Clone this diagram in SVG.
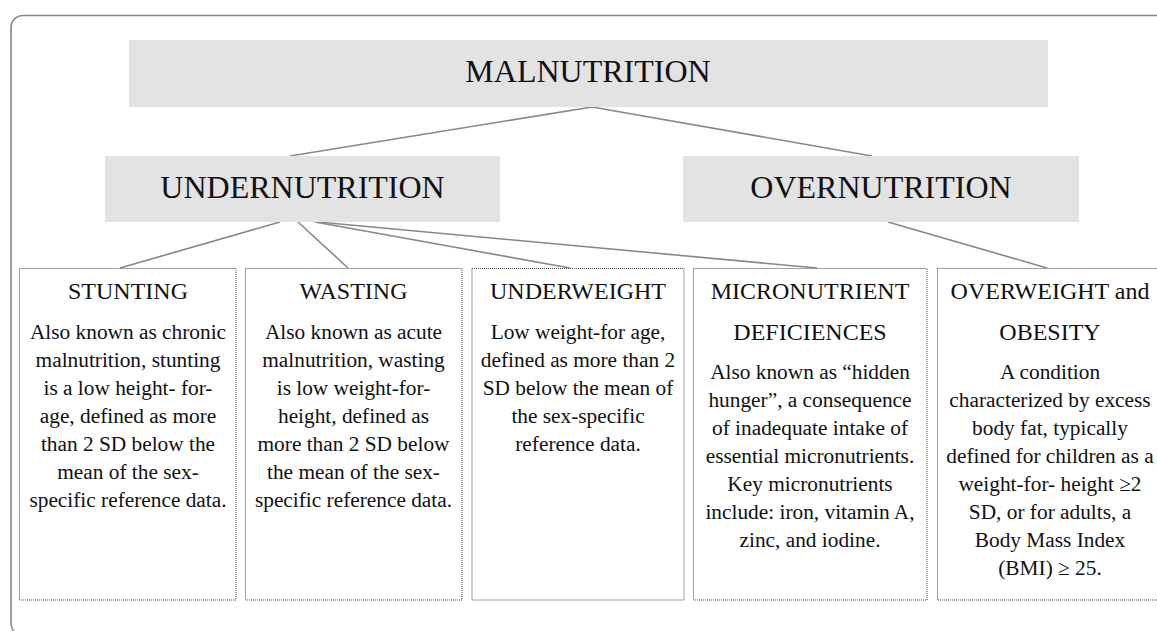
<svg xmlns="http://www.w3.org/2000/svg" width="1157" height="631" viewBox="0 0 1157 631">
  <style>
    .t { font-family: "Liberation Serif", "Times New Roman", Times, Tinos, "Noto Serif", "DejaVu Serif", FreeSerif, "Nimbus Roman", serif; fill: #111; text-anchor: middle; }
    .frame { fill: none; stroke: #858585; stroke-width: 1.6; }
    .head { fill: #e3e3e3; stroke: none; }
    .big { font-size: 32px; }
    .card { fill: #fff; stroke: #444; stroke-width: 1; stroke-dasharray: 1 1; }
    .title { font-size: 24px; }
    .body { font-size: 21.33px; }
    .link { stroke: #888; stroke-width: 1.6; fill: none; }
  </style>

  <!-- outer panel -->
  <rect class="frame" x="11" y="15.5" width="1170" height="620" rx="12" ry="12"/>

  <!-- connectors -->
  <g id="connectors">
    <line class="link" x1="592" y1="107" x2="290" y2="156"/>
    <line class="link" x1="592" y1="107" x2="872" y2="156"/>
    <line class="link" x1="280" y1="222" x2="120" y2="268"/>
    <line class="link" x1="298" y1="222" x2="348" y2="268"/>
    <line class="link" x1="315" y1="222" x2="570" y2="268"/>
    <line class="link" x1="318" y1="222" x2="817" y2="268"/>
    <line class="link" x1="888" y1="222" x2="1047" y2="268"/>
  </g>

  <g id="malnutrition">
    <rect class="head" x="129" y="40" width="919" height="67"/>
    <text class="t big" x="588" y="82">MALNUTRITION</text>
  </g>

  <g id="undernutrition">
    <rect class="head" x="105" y="156" width="395" height="66"/>
    <text class="t big" x="302.5" y="198">UNDERNUTRITION</text>
  </g>

  <g id="overnutrition">
    <rect class="head" x="683" y="156" width="396" height="66"/>
    <text class="t big" x="881" y="198">OVERNUTRITION</text>
  </g>

  <g id="stunting">
    <rect class="card" x="19.5" y="268.5" width="216.5" height="331.5"/>
    <text class="t title" x="128" y="299">STUNTING</text>
    <text class="t body" x="128" y="339">Also known as chronic</text>
    <text class="t body" x="128" y="367">malnutrition, stunting</text>
    <text class="t body" x="128" y="395">is a low height- for-</text>
    <text class="t body" x="128" y="423">age, defined as more</text>
    <text class="t body" x="128" y="451">than 2 SD below the</text>
    <text class="t body" x="128" y="479">mean of the sex-</text>
    <text class="t body" x="128" y="507">specific reference data.</text>
  </g>

  <g id="wasting">
    <rect class="card" x="245.5" y="268.5" width="216.5" height="331.5"/>
    <text class="t title" x="353.5" y="299">WASTING</text>
    <text class="t body" x="353.5" y="339">Also known as acute</text>
    <text class="t body" x="353.5" y="367">malnutrition, wasting</text>
    <text class="t body" x="353.5" y="395">is low weight-for-</text>
    <text class="t body" x="353.5" y="423">height, defined as</text>
    <text class="t body" x="353.5" y="451">more than 2 SD below</text>
    <text class="t body" x="353.5" y="479">the mean of the sex-</text>
    <text class="t body" x="353.5" y="507">specific reference data.</text>
  </g>

  <g id="underweight">
    <rect class="card" x="472" y="268.5" width="212" height="331.5"/>
    <text class="t title" x="578" y="299">UNDERWEIGHT</text>
    <text class="t body" x="578" y="339">Low weight-for age,</text>
    <text class="t body" x="578" y="367">defined as more than 2</text>
    <text class="t body" x="578" y="395">SD below the mean of</text>
    <text class="t body" x="578" y="423">the sex-specific</text>
    <text class="t body" x="578" y="451">reference data.</text>
  </g>

  <g id="micronutrient">
    <rect class="card" x="693.5" y="268.5" width="233.5" height="331.5"/>
    <text class="t title" x="810" y="299">MICRONUTRIENT</text>
    <text class="t title" x="810" y="340">DEFICIENCES</text>
    <text class="t body" x="810" y="379">Also known as “hidden</text>
    <text class="t body" x="810" y="407">hunger”, a consequence</text>
    <text class="t body" x="810" y="435">of inadequate intake of</text>
    <text class="t body" x="810" y="463">essential micronutrients.</text>
    <text class="t body" x="810" y="491">Key micronutrients</text>
    <text class="t body" x="810" y="519">include: iron, vitamin A,</text>
    <text class="t body" x="810" y="547">zinc, and iodine.</text>
  </g>

  <g id="overweight">
    <rect class="card" x="937.5" y="268.5" width="230" height="331.5"/>
    <text class="t title" x="1050" y="299">OVERWEIGHT and</text>
    <text class="t title" x="1050" y="340">OBESITY</text>
    <text class="t body" x="1050" y="379">A condition</text>
    <text class="t body" x="1050" y="407">characterized by excess</text>
    <text class="t body" x="1050" y="435">body fat, typically</text>
    <text class="t body" x="1050" y="463">defined for children as a</text>
    <text class="t body" x="1050" y="491">weight-for- height ≥2</text>
    <text class="t body" x="1050" y="519">SD, or for adults, a</text>
    <text class="t body" x="1050" y="547">Body Mass Index</text>
    <text class="t body" x="1050" y="575">(BMI) ≥ 25.</text>
  </g>
</svg>
